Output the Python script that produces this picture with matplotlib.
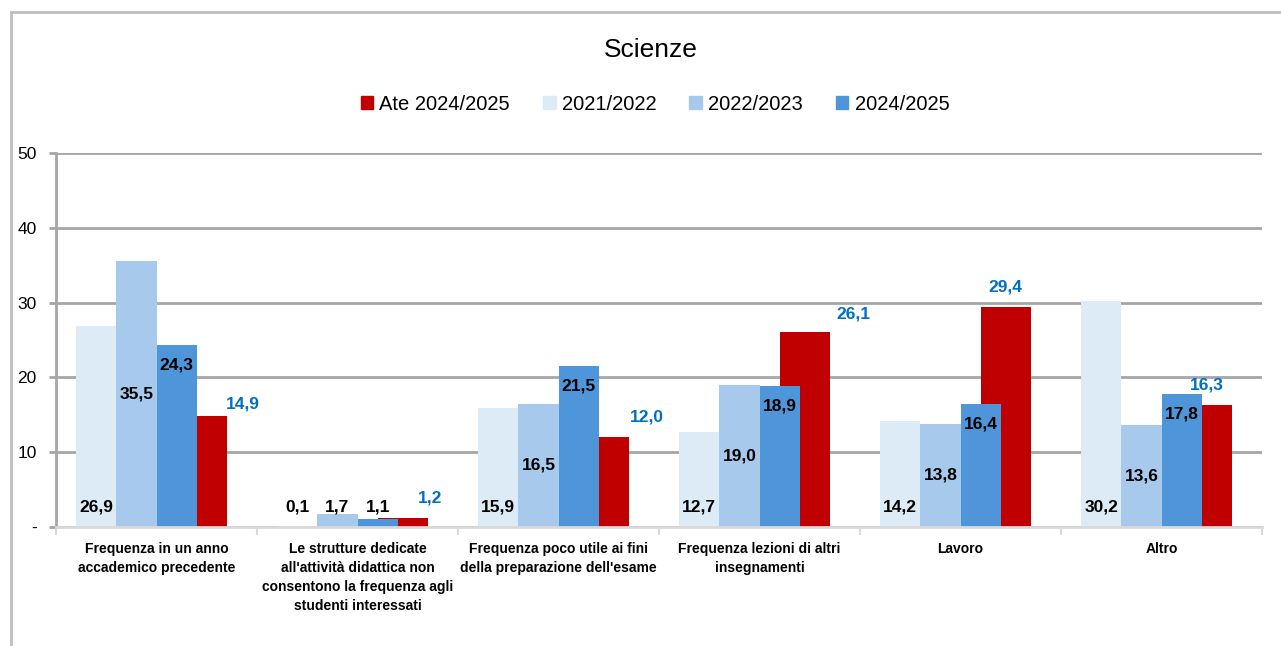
import numpy as np
import matplotlib.pyplot as plt
from matplotlib.patches import Patch
from matplotlib.lines import Line2D

# dati
categorie = [
    "Frequenza in un anno\naccademico precedente",
    "Le strutture dedicate\nall'attività didattica non\nconsentono la frequenza agli\nstudenti interessati",
    "Frequenza poco utile ai fini\ndella preparazione dell'esame",
    "Frequenza lezioni di altri\ninsegnamenti",
    "Lavoro",
    "Altro",
]
v_2021 = [26.9, 0.1, 15.9, 12.7, 14.2, 30.2]
v_2022 = [35.5, 1.7, 16.5, 19.0, 13.8, 13.6]
v_2024 = [24.3, 1.1, 21.5, 18.9, 16.4, 17.8]
v_ate = [14.9, 1.2, 12.0, 26.1, 29.4, 16.3]

# spostamento (pixel) delle etichette rosse, posizionate a mano nell'originale
ate_dx = [41, 27, 43, 49, 0, 0]
ate_dy = [12, 20, 20, 18, 20, 20]

col_2021 = '#DDEBF7'
col_2022 = '#A6C9EC'
col_2024 = '#4F95D9'
col_ate = '#C00000'
grigio = '#A6A6A6'

plt.rcParams['font.family'] = ['Liberation Sans', 'DejaVu Sans']

fig = plt.figure(figsize=(12.81, 6.46), dpi=100)
ax = fig.add_axes([56 / 1281, 119 / 646, 1206 / 1281, 374 / 646])

x = np.arange(len(categorie))
w = 0.2

ax.bar(x + 0.225, v_ate, 0.25, color=col_ate, zorder=2)
ax.bar(x - 0.3, v_2021, w, color=col_2021, zorder=3)
ax.bar(x - 0.1, v_2022, w, color=col_2022, zorder=3)
ax.bar(x + 0.1, v_2024, w, color=col_2024, zorder=3)

ax.set_xlim(-0.5, 5.5)
ax.set_ylim(0, 50)

# conversione pixel -> unità dati (asse y)
px = 50 / 374.0


def fmt(v):
    return f"{v:.1f}".replace('.', ',')


lab = dict(fontsize=12.5, fontweight='bold', ha='center', va='center', zorder=5)
for i in range(len(categorie)):
    ax.text(x[i] - 0.3, 20 * px, fmt(v_2021[i]), **lab)
    ax.text(x[i] - 0.1, max(v_2022[i] / 2, 20 * px), fmt(v_2022[i]), **lab)
    ax.text(x[i] + 0.1, max(v_2024[i] - 20 * px, 20 * px), fmt(v_2024[i]), **lab)
    ax.annotate(fmt(v_ate[i]), xy=(x[i] + 0.225, v_ate[i]),
                xytext=(ate_dx[i], ate_dy[i]), textcoords='offset pixels',
                color='#0070C0', **lab)

# griglia e assi
ax.set_yticks([0, 10, 20, 30, 40, 50])
ax.set_yticklabels(['-', '10', '20', '30', '40', '50'], fontsize=12.5)
ax.yaxis.grid(True, color=grigio, linewidth=2, zorder=0)
ax.set_axisbelow(True)
ax.tick_params(axis='y', length=5, width=2, color=grigio, pad=9)

ax.set_xticks(np.arange(-0.5, 6, 1))
ax.set_xticklabels([])
ax.set_xticks(x, minor=True)
ax.set_xticklabels(categorie, minor=True, fontsize=10, fontweight='bold',
                   linespacing=1.45, va='top')
ax.tick_params(axis='x', which='major', length=6, width=1.5, color='#D9D9D9', direction='out')
ax.tick_params(axis='x', which='minor', length=0, pad=11)

for s in ['top', 'right']:
    ax.spines[s].set_visible(False)
ax.spines['left'].set_color(grigio)
ax.spines['left'].set_linewidth(2)
ax.spines['bottom'].set_color('#D9D9D9')
ax.spines['bottom'].set_linewidth(2)
ax.spines['bottom'].set_zorder(4)

# titolo e legenda
fig.text(651 / 1281, 1 - 50 / 646, 'Scienze', fontsize=19, ha='center', va='center')
handles = [Patch(color=col_ate), Patch(color=col_2021), Patch(color=col_2022), Patch(color=col_2024)]
fig.legend(handles, ['Ate 2024/2025', '2021/2022', '2022/2023', '2024/2025'],
           loc='center', bbox_to_anchor=(655 / 1281, 1 - 104 / 646), ncol=4,
           frameon=False, fontsize=14.5, handlelength=0.62, handleheight=0.62,
           handletextpad=0.3, columnspacing=1.65)

# cornice esterna
fig.add_artist(Line2D([10.5 / 1281, 10.5 / 1281], [0, 1 - 12 / 646], color='#BFBFBF', linewidth=2))
fig.add_artist(Line2D([10.5 / 1281, 1], [1 - 12 / 646, 1 - 12 / 646], color='#BFBFBF', linewidth=2))

plt.savefig('out.png', dpi=100)
